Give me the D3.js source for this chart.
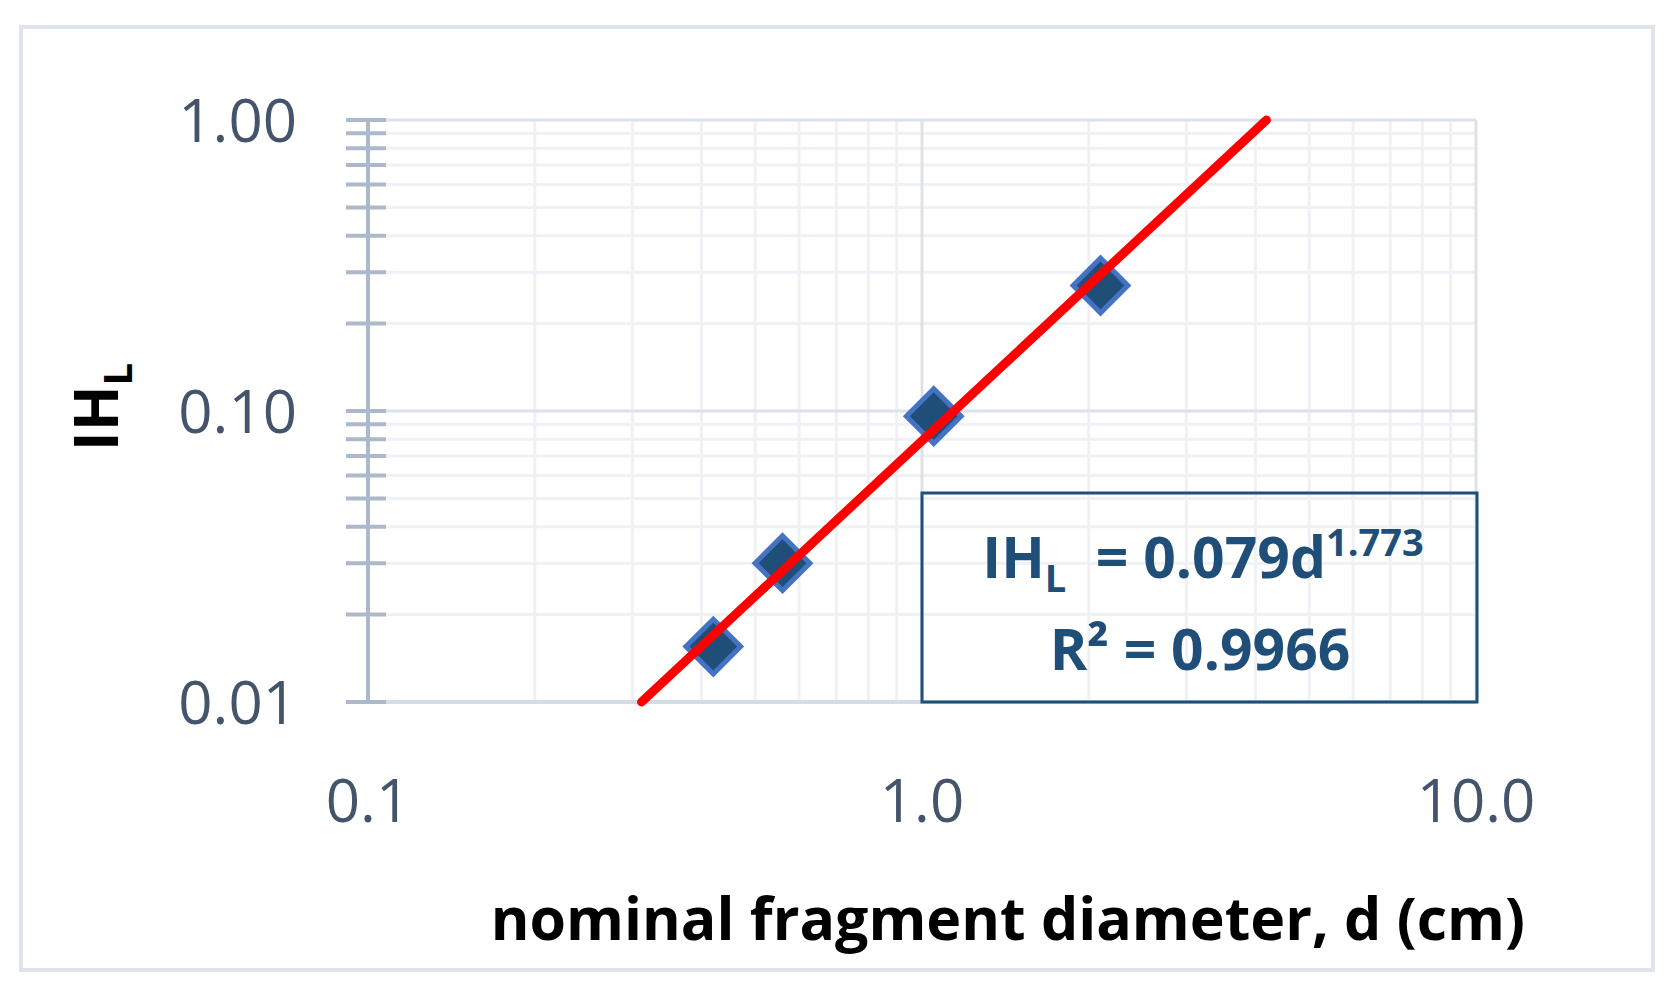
<!DOCTYPE html>
<html><head><meta charset="utf-8">
<script src="https://cdn.jsdelivr.net/npm/d3@7"></script>
<style>body{margin:0;background:#fff}</style></head>
<body><div id="chart"></div>
<script>
const diameters = [0.42, 0.56, 1.05, 2.1]
const ihValues = [0.0155, 0.030, 0.096, 0.27]
const xTickLabels = ['0.1', '1.0', '10.0']
const yTickLabels = ['0.01', '0.10', '1.00']
const fitCoef = 0.079
const fitExp = 1.773

const svg = d3.select('#chart').append('svg').attr('width', 1680).attr('height', 984)
  .style('font-family', '"Open Sans", sans-serif')

svg.append('rect').attr('x', 21).attr('y', 27).attr('width', 1632).attr('height', 943)
  .attr('fill', '#fff').attr('stroke', '#dfe3ec').attr('stroke-width', 4)

const x = d3.scaleLog().domain([0.1, 10]).range([368, 1476])
const y = d3.scaleLog().domain([0.01, 1]).range([702, 120])

const minors = []
;[0.1, 1].forEach(b => d3.range(2, 10).forEach(k => minors.push(b * k)))
const yMinors = []
;[0.01, 0.1].forEach(b => d3.range(2, 10).forEach(k => yMinors.push(b * k)))

// gridlines
svg.selectAll('.gx').data(minors).enter().append('line')
  .attr('x1', d => x(d)).attr('x2', d => x(d)).attr('y1', 120).attr('y2', 702)
  .attr('stroke', '#eff1f5').attr('stroke-width', 3)
svg.selectAll('.gy').data(yMinors).enter().append('line')
  .attr('x1', 346).attr('x2', 1476).attr('y1', d => y(d)).attr('y2', d => y(d))
  .attr('stroke', '#eff1f5').attr('stroke-width', 3)
svg.selectAll('.gxm').data([1, 10]).enter().append('line')
  .attr('x1', d => x(d)).attr('x2', d => x(d)).attr('y1', 120).attr('y2', 702)
  .attr('stroke', '#dde2ea').attr('stroke-width', 3)
svg.selectAll('.gym').data([0.1, 1]).enter().append('line')
  .attr('x1', 346).attr('x2', 1476).attr('y1', d => y(d)).attr('y2', d => y(d))
  .attr('stroke', '#dde2ea').attr('stroke-width', 3)

// axes
svg.append('line').attr('x1', 346).attr('x2', 1476).attr('y1', 702).attr('y2', 702)
  .attr('stroke', '#d6dce5').attr('stroke-width', 4)
svg.append('line').attr('x1', 368).attr('x2', 368).attr('y1', 120).attr('y2', 702)
  .attr('stroke', '#adb9ca').attr('stroke-width', 4)
svg.selectAll('.ty').data(yMinors.concat([0.01, 0.1, 1])).enter().append('line')
  .attr('x1', 346).attr('x2', 386).attr('y1', d => y(d)).attr('y2', d => y(d))
  .attr('stroke', '#adb9ca').attr('stroke-width', 4)

svg.selectAll('.ly').data(yTickLabels).enter().append('text')
  .attr('x', 297).attr('y', d => y(+d)).attr('dy', '0.36em').attr('text-anchor', 'end')
  .attr('font-size', 60).attr('fill', '#44546a').text(d => d)
svg.selectAll('.lx').data(xTickLabels).enter().append('text')
  .attr('x', d => x(+d)).attr('y', 822).attr('text-anchor', 'middle')
  .attr('font-size', 60).attr('fill', '#44546a').text(d => d)

svg.append('text').attr('x', 1525).attr('y', 940).attr('text-anchor', 'end')
  .attr('font-size', 59).attr('font-weight', 'bold').attr('fill', '#000')
  .text('nominal fragment diameter, d (cm)')
const yt = svg.append('text').attr('transform', 'translate(118,407) rotate(-90)')
  .attr('text-anchor', 'middle').attr('font-size', 60).attr('font-weight', 'bold')
yt.append('tspan').text('IH')
yt.append('tspan').attr('font-size', 40).attr('dy', 14).text('L')

const fit = d => fitCoef * Math.pow(d, fitExp)
const d0 = Math.pow(0.01 / fitCoef, 1 / fitExp)
const d1 = Math.pow(1 / fitCoef, 1 / fitExp)

// points
svg.selectAll('.pt').data(diameters).enter().append('path')
  .attr('d', d3.symbol(d3.symbolSquare, 1500))
  .attr('transform', (d, i) => `translate(${x(d)},${y(ihValues[i])}) rotate(45)`)
  .attr('fill', '#1f4e79').attr('stroke', '#4472c4').attr('stroke-width', 5)

// trendline
svg.append('line').attr('x1', x(d0)).attr('y1', y(fit(d0))).attr('x2', x(d1)).attr('y2', y(fit(d1)))
  .attr('stroke', '#ff0000').attr('stroke-width', 9).attr('stroke-linecap', 'round')

// equation box
svg.append('rect').attr('x', 922).attr('y', 493).attr('width', 555).attr('height', 209)
  .attr('fill', 'none').attr('stroke', '#1f4e79').attr('stroke-width', 3)
const eq = svg.append('text').attr('x', 1203).attr('y', 578).attr('text-anchor', 'middle')
  .attr('font-size', 57).attr('font-weight', 'bold').attr('fill', '#1f4e79')
eq.append('tspan').text('IH')
eq.append('tspan').attr('font-size', 38).attr('dy', 14).text('L')
eq.append('tspan').attr('dy', -14).text('\u00a0 = ' + fitCoef.toFixed(3) + 'd')
eq.append('tspan').attr('font-size', 38).attr('dy', -22).text(fitExp.toFixed(3))
svg.append('text').attr('x', 1200).attr('y', 670).attr('text-anchor', 'middle')
  .attr('font-size', 57).attr('font-weight', 'bold').attr('fill', '#1f4e79')
  .text('R\u00b2 = 0.9966')
</script></body></html>
